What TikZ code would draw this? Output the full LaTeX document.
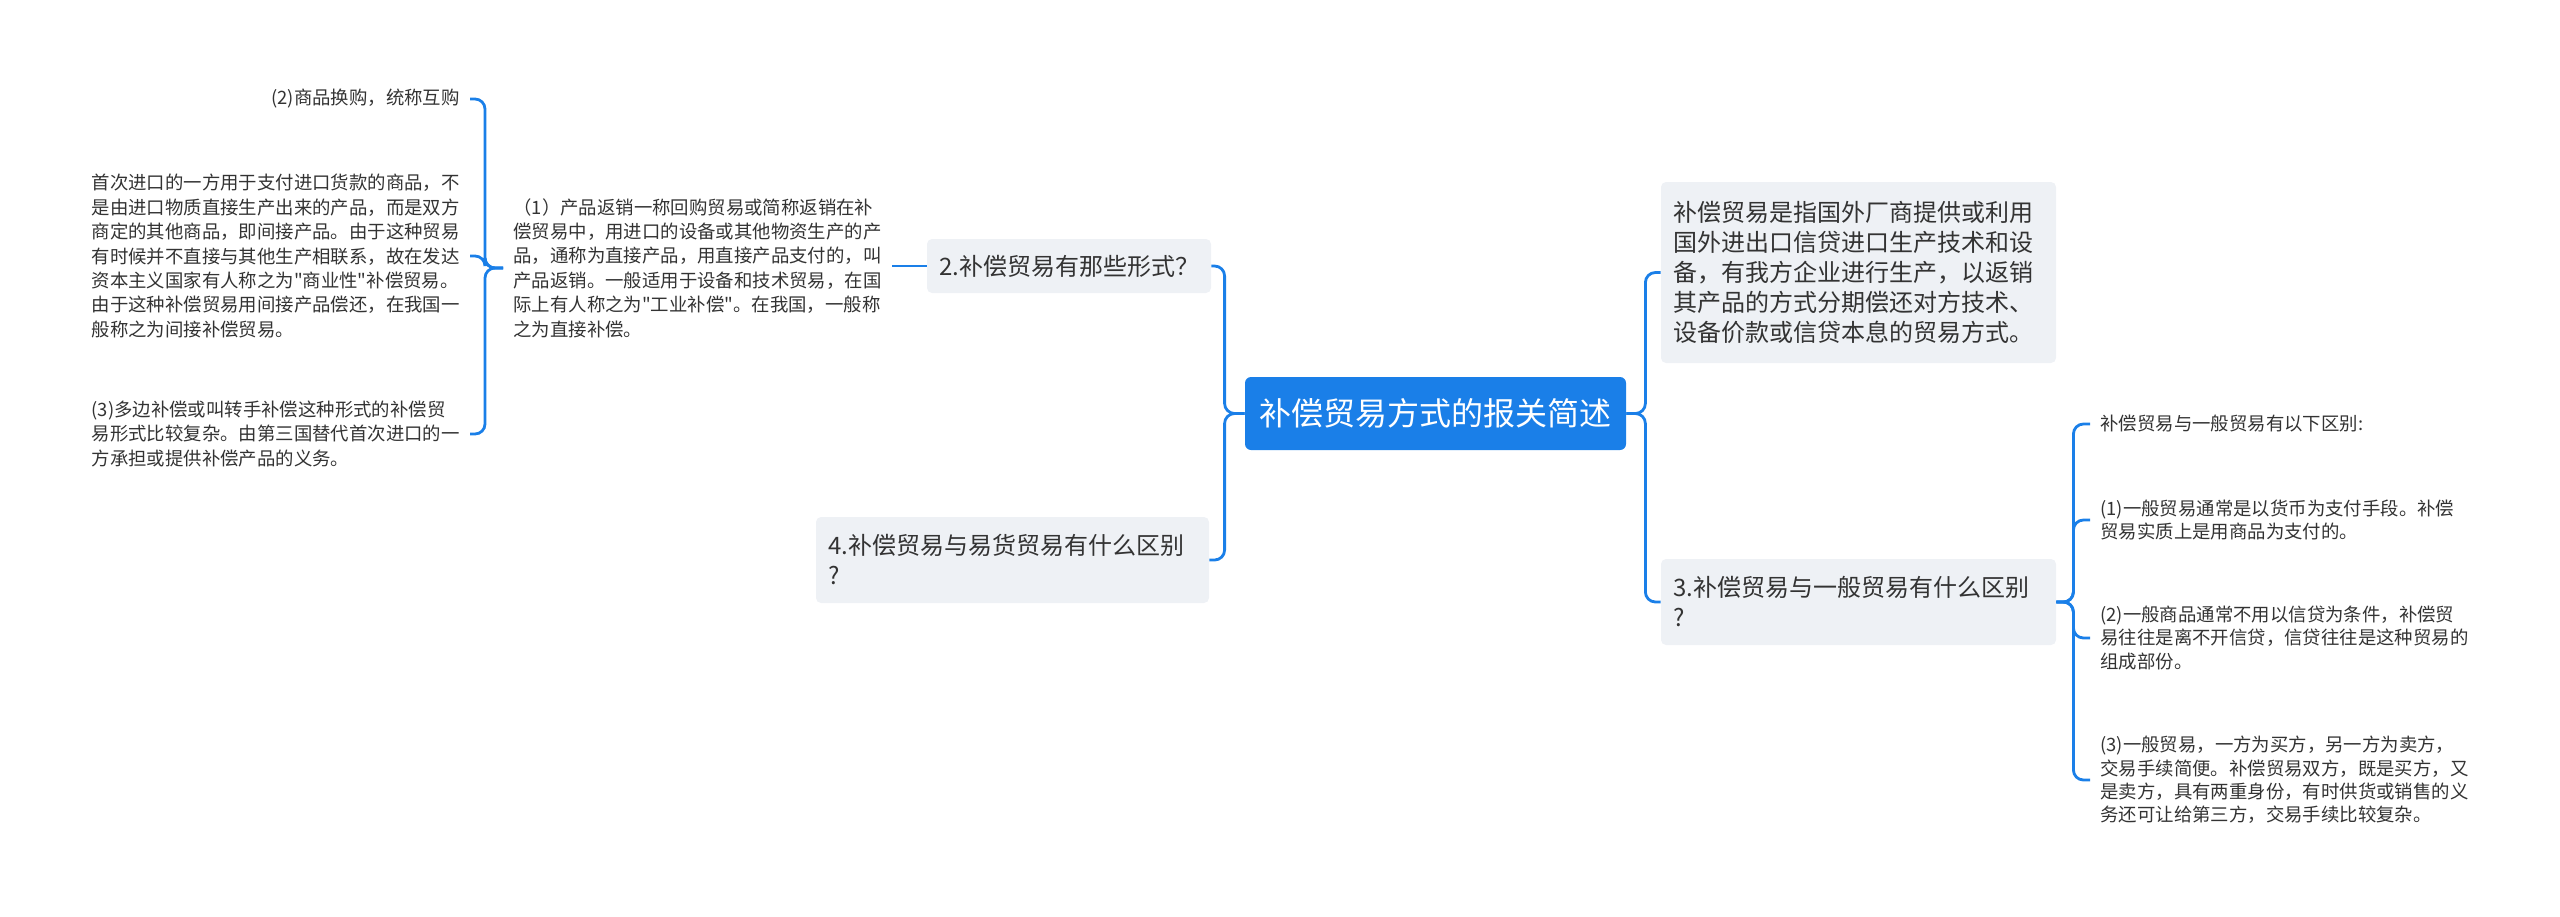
\documentclass[tikz,border=0pt]{standalone}
\usepackage{fontspec}
\setmainfont{Noto Sans CJK SC}[Ligatures=TeXOff]
\usepackage{xcolor}

\definecolor{mapblue}{HTML}{1A7FE8}
\definecolor{topicgrey}{HTML}{EEF1F5}
\definecolor{inktext}{HTML}{333333}

\begin{document}
\begin{tikzpicture}[
  x=0.5pt,y=-0.5pt,
  root/.style={fill=mapblue,rounded corners=3pt,text=white,font=\fontsize{16}{20}\selectfont,minimum width=190.5pt,minimum height=36.5pt,inner sep=0pt},
  topic/.style={fill=topicgrey,rounded corners=2.5pt,text=inktext,align=left,font=\fontsize{12}{15}\selectfont,inner xsep=6pt,inner ysep=0pt},
  leaf/.style={text=inktext,align=left,font=\fontsize{9.2}{12.2}\selectfont,inner xsep=5pt,inner ysep=0pt},
  leaftight/.style={leaf,font=\fontsize{9.2}{11.7}\selectfont},
  branch/.style={draw=mapblue,line width=1.4pt,rounded corners=5pt}
]
\useasboundingbox (0,0) rectangle (2560,916);

\node[root] (root) at (1435.5,413.5) {补偿贸易方式的报关简述};
\node[topic,text width=185.5pt,minimum height=90.5pt] (def) at (1858.5,272.5)
  {补偿贸易是指国外厂商提供或利用\\国外进出口信贷进口生产技术和设\\备，有我方企业进行生产，以返销\\其产品的方式分期偿还对方技术、\\设备价款或信贷本息的贸易方式。};
\node[topic,text width=185.5pt,minimum height=43pt] (diff) at (1858.5,602) {3.补偿贸易与一般贸易有什么区别\\?};
\node[topic,minimum height=27pt] (forms) at (1069,266) {2.补偿贸易有那些形式？};
\node[topic,text width=184.5pt,minimum height=43pt] (barter) at (1012.5,560) {4.补偿贸易与易货贸易有什么区别\\?};

% left leaves
\node[leaf,anchor=west] (direct) at (503,268)
  {（1）产品返销一称回购贸易或简称返销在补\\偿贸易中，用进口的设备或其他物资生产的产\\品，通称为直接产品，用直接产品支付的，叫\\产品返销。一般适用于设备和技术贸易，在国\\际上有人称之为"工业补偿"。在我国，一般称\\之为直接补偿。};
\node[leaf,anchor=east] (swap) at (470,99) {(2)商品换购，统称互购};
\node[leaf,anchor=east] (indirect) at (470,256)
  {首次进口的一方用于支付进口货款的商品，不\\是由进口物质直接生产出来的产品，而是双方\\商定的其他商品，即间接产品。由于这种贸易\\有时候并不直接与其他生产相联系，故在发达\\资本主义国家有人称之为"商业性"补偿贸易。\\由于这种补偿贸易用间接产品偿还，在我国一\\般称之为间接补偿贸易。};
\node[leaf,anchor=east] (multi) at (470,434)
  {(3)多边补偿或叫转手补偿这种形式的补偿贸\\易形式比较复杂。由第三国替代首次进口的一\\方承担或提供补偿产品的义务。};

% right leaves
\node[leaftight,anchor=west] (intro) at (2090,424) {补偿贸易与一般贸易有以下区别:};
\node[leaftight,anchor=west] (money) at (2090,520)
  {(1)一般贸易通常是以货币为支付手段。补偿\\贸易实质上是用商品为支付的。};
\node[leaftight,anchor=west] (credit) at (2090,638)
  {(2)一般商品通常不用以信贷为条件，补偿贸\\易往往是离不开信贷，信贷往往是这种贸易的\\组成部份。};
\node[leaftight,anchor=west] (roles) at (2090,780)
  {(3)一般贸易，一方为买方，另一方为卖方，\\交易手续简便。补偿贸易双方，既是买方，又\\是卖方，具有两重身份，有时供货或销售的义\\务还可让给第三方，交易手续比较复杂。};

\foreach \topic in {forms,barter}
  \draw[branch] (root.west) -- ++(-20,0) |- (\topic.east);
\foreach \topic in {def,diff}
  \draw[branch] (root.east) -- ++(19,0) |- (\topic.west);
\draw[branch] (forms.west) -- (forms.west -| direct.east);
\foreach \leaf in {swap,indirect,multi}
  \draw[branch] (direct.west) -- ++(-18,0) |- (\leaf.east);
\foreach \leaf in {intro,money,credit,roles}
  \draw[branch] (diff.east) -- ++(17,0) |- (\leaf.west);
\end{tikzpicture}
\end{document}
